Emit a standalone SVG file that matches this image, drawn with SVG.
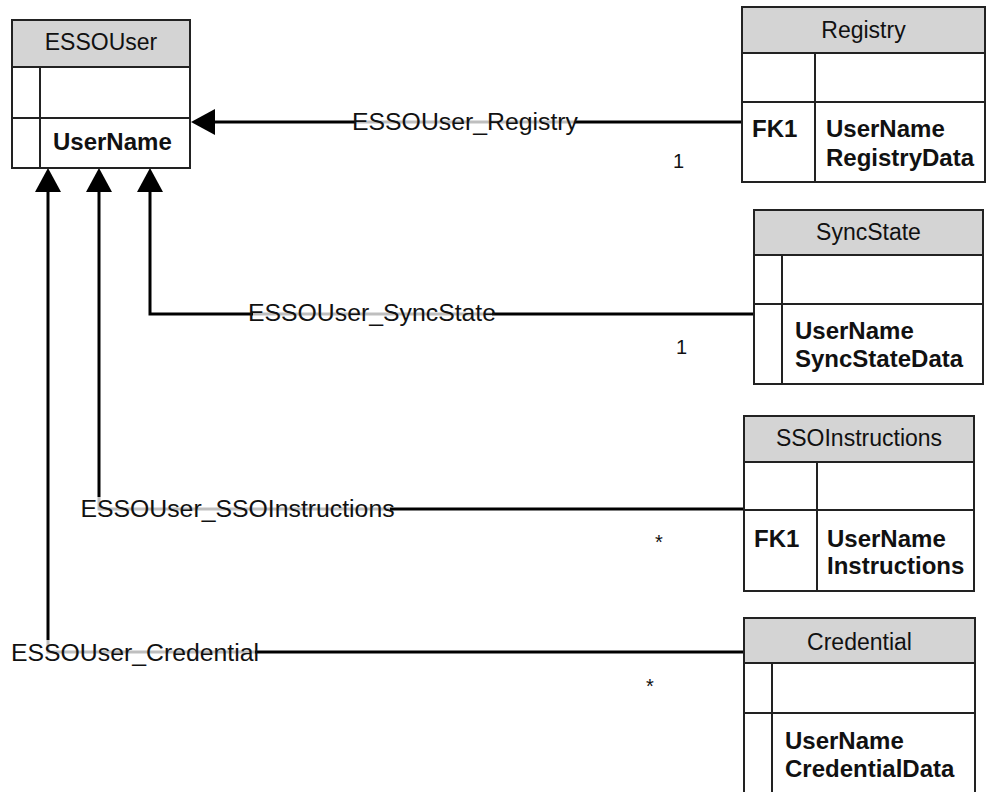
<svg xmlns="http://www.w3.org/2000/svg" width="986" height="792" viewBox="0 0 986 792">
<style>
text{font-family:"Liberation Sans",Arial,sans-serif;fill:#111}
.box{fill:#fff;stroke:#222;stroke-width:2}
.hdr{fill:#d4d4d4;stroke:#222;stroke-width:2}
.ln{fill:none;stroke:#222;stroke-width:2}
.title{font-size:23px;text-anchor:middle}
.b{font-size:24px;font-weight:bold}
.conn{fill:none;stroke:#000;stroke-width:3}
.lbl{font-size:24.8px;text-anchor:middle}
.lblbg{fill:#fff;opacity:0.75}
.card{font-size:20px}
</style>
<defs>
<marker id="arr" viewBox="0 0 24 26" refX="0" refY="13" markerWidth="24" markerHeight="26" markerUnits="userSpaceOnUse" orient="auto">
<path d="M0,0 L24,13 L0,26 z" fill="#000"/>
</marker>
</defs>

<g id="connectors">
<path class="conn" d="M742,122 H215" marker-end="url(#arr)"/>
<path class="conn" d="M754,314 H150 V192" marker-end="url(#arr)"/>
<path class="conn" d="M744,509 H99 V192" marker-end="url(#arr)"/>
<path class="conn" d="M744,652 H48 V192" marker-end="url(#arr)"/>
<rect class="lblbg" x="355" y="110" width="220" height="22"/>
<text class="lbl" x="465" y="130">ESSOUser_Registry</text>
<rect class="lblbg" x="253" y="302" width="239" height="22"/>
<text class="lbl" x="372" y="321">ESSOUser_SyncState</text>
<rect class="lblbg" x="85" y="497" width="305" height="23"/>
<text class="lbl" x="237.5" y="517">ESSOUser_SSOInstructions</text>
<rect class="lblbg" x="15" y="640" width="240" height="23"/>
<text class="lbl" x="135" y="661">ESSOUser_Credential</text>
<text class="card" x="673" y="168">1</text>
<text class="card" x="676" y="354">1</text>
<text class="card" x="655" y="549">*</text>
<text class="card" x="646" y="693">*</text>
</g>

<g id="ESSOUser">
<rect class="box" x="12" y="20" width="178" height="148"/>
<rect class="hdr" x="12" y="20" width="178" height="47"/>
<line class="ln" x1="12" y1="118" x2="190" y2="118"/>
<line class="ln" x1="40" y1="67" x2="40" y2="168"/>
<text class="title" x="101" y="50">ESSOUser</text>
<text class="b" x="53" y="150">UserName</text>
</g>

<g id="Registry">
<rect class="box" x="742" y="7" width="243" height="175"/>
<rect class="hdr" x="742" y="7" width="243" height="46"/>
<line class="ln" x1="742" y1="102" x2="985" y2="102"/>
<line class="ln" x1="815" y1="53" x2="815" y2="182"/>
<text class="title" x="863.5" y="38">Registry</text>
<text class="b" x="752" y="137">FK1</text>
<text class="b" x="826" y="137">UserName</text>
<text class="b" x="826" y="166">RegistryData</text>
</g>

<g id="SyncState">
<rect class="box" x="754" y="210" width="229" height="174"/>
<rect class="hdr" x="754" y="210" width="229" height="45"/>
<line class="ln" x1="754" y1="304" x2="983" y2="304"/>
<line class="ln" x1="782" y1="255" x2="782" y2="384"/>
<text class="title" x="868.5" y="240">SyncState</text>
<text class="b" x="795" y="339">UserName</text>
<text class="b" x="795" y="367">SyncStateData</text>
</g>

<g id="SSOInstructions">
<rect class="box" x="744" y="416" width="230" height="175"/>
<rect class="hdr" x="744" y="416" width="230" height="46"/>
<line class="ln" x1="744" y1="510" x2="974" y2="510"/>
<line class="ln" x1="817" y1="462" x2="817" y2="591"/>
<text class="title" x="859" y="446">SSOInstructions</text>
<text class="b" x="754" y="547">FK1</text>
<text class="b" x="827" y="547">UserName</text>
<text class="b" x="827" y="574">Instructions</text>
</g>

<g id="Credential">
<rect class="box" x="744" y="618" width="231" height="190"/>
<rect class="hdr" x="744" y="618" width="231" height="45"/>
<line class="ln" x1="744" y1="713" x2="975" y2="713"/>
<line class="ln" x1="772" y1="663" x2="772" y2="808"/>
<text class="title" x="859.5" y="650">Credential</text>
<text class="b" x="785" y="749">UserName</text>
<text class="b" x="785" y="777">CredentialData</text>
</g>
</svg>
